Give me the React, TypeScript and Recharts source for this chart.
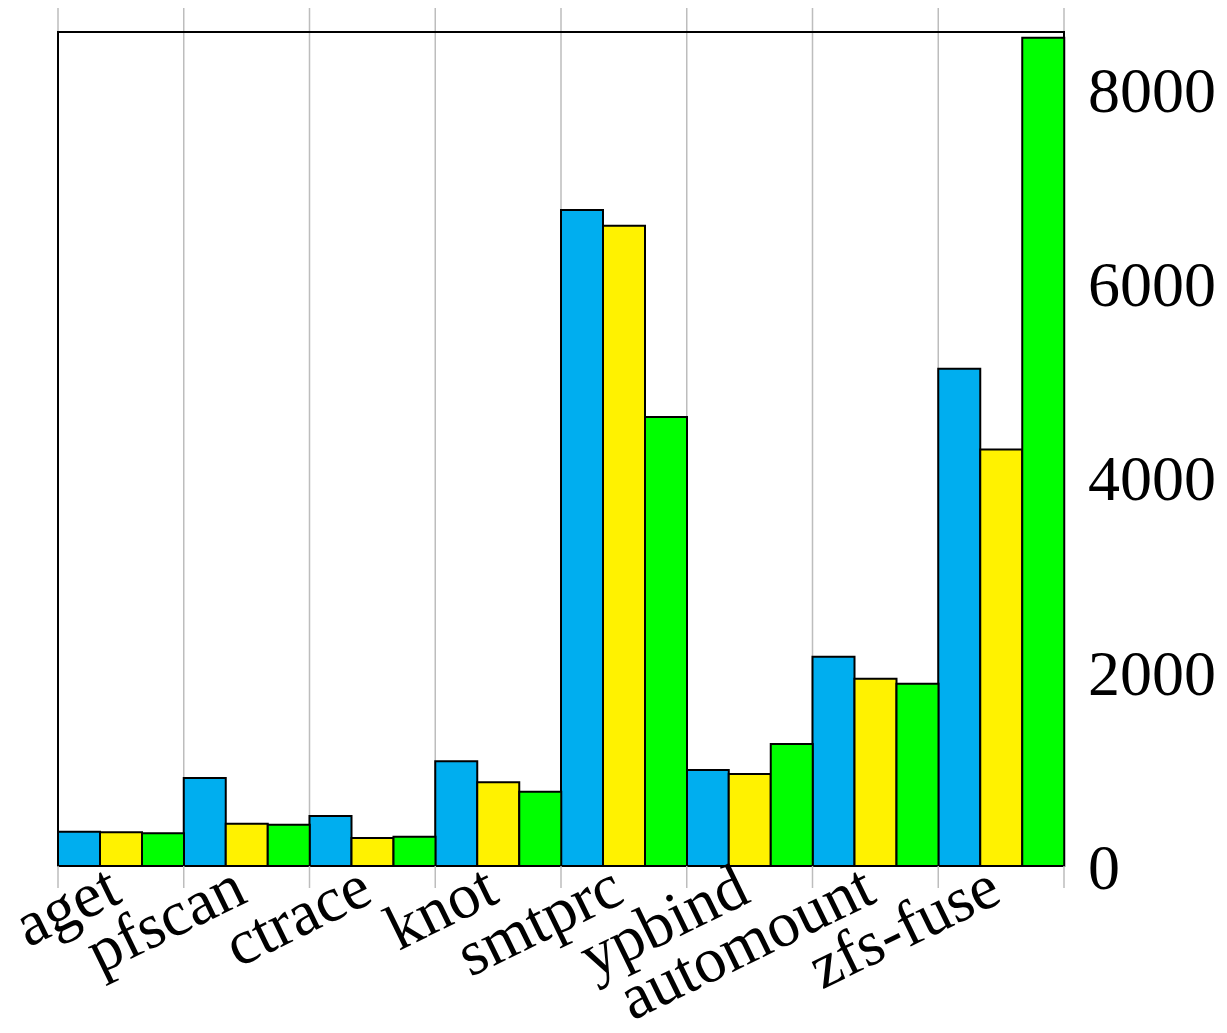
import { BarChart, Bar, XAxis, YAxis, CartesianGrid, ReferenceArea } from 'recharts';

const categories = ['aget', 'pfscan', 'ctrace', 'knot', 'smtprc', 'ypbind', 'automount', 'zfs-fuse'];
const blueValues = [353, 906, 515, 1078, 6756, 989, 2156, 5122];
const yellowValues = [347, 436, 288, 862, 6594, 947, 1929, 4288];
const greenValues = [337, 425, 302, 765, 4624, 1256, 1877, 8530];
const yTicks = [0, 2000, 4000, 6000, 8000];
const Y_MAX = 8836; // top of the grid lines
const FRAME_TOP = 8589; // top edge of the axis box

const data = categories.map((name, i) => ({
  name,
  blue: blueValues[i],
  yellow: yellowValues[i],
  green: greenValues[i],
}));

const W = 1227;
const H = 1033;
const M_LEFT = 58;
const M_TOP = 8;
const RIGHT_AXIS_W = 163;
const X_AXIS_H = 167;
const PLOT_W = W - M_LEFT - RIGHT_AXIS_W;
const BAND = PLOT_W / categories.length;
const GRID = '#bdbdbd';
const FONT = '"Liberation Serif", "DejaVu Serif", serif';

const CategoryTick = ({ x, y, payload, index }: any) => {
  const left = x - BAND / 2;
  const right = x + BAND / 2;
  const tx = x + 3;
  const ty = y + 35;
  return (
    <g>
      <line x1={left} y1={y} x2={left} y2={y + 22} stroke={GRID} strokeWidth={1.5} />
      {index === categories.length - 1 && (
        <line x1={right} y1={y} x2={right} y2={y + 22} stroke={GRID} strokeWidth={1.5} />
      )}
      <text
        x={tx}
        y={ty}
        textAnchor="end"
        transform={`rotate(-26, ${tx}, ${ty})`}
        fontFamily={FONT}
        fontSize={64}
        fill="#000"
      >
        {payload.value}
      </text>
    </g>
  );
};

export default function App() {
  return (
    <div style={{ position: 'absolute', left: 0, top: 0, background: '#fff' }}>
      <BarChart
        width={W}
        height={H}
        data={data}
        margin={{ top: M_TOP, right: 0, bottom: 0, left: M_LEFT }}
        barCategoryGap={0}
        barGap={0}
      >
        <CartesianGrid
          horizontal={false}
          stroke={GRID}
          strokeWidth={1.5}
          verticalCoordinatesGenerator={({ offset }: any) =>
            categories.concat(['end']).map((_, i) => offset.left + (i * offset.width) / categories.length)
          }
        />
        <XAxis
          dataKey="name"
          height={X_AXIS_H}
          interval={0}
          tickLine={false}
          tickSize={0}
          tickMargin={0}
          axisLine={{ stroke: '#000', strokeWidth: 2 }}
          tick={<CategoryTick />}
        />
        <YAxis
          orientation="right"
          width={RIGHT_AXIS_W}
          domain={[0, Y_MAX]}
          ticks={yTicks}
          axisLine={false}
          tickLine={false}
          tickSize={0}
          tickMargin={24}
          tick={{ fill: '#000', fontSize: 64, fontFamily: FONT }}
        />
        <YAxis
          yAxisId="left"
          orientation="left"
          mirror
          domain={[0, Y_MAX]}
          ticks={yTicks}
          axisLine={false}
          tickSize={23}
          tickLine={{ stroke: GRID, strokeWidth: 2 }}
          tick={() => <g />}
        />
        <ReferenceArea y1={0} y2={FRAME_TOP} fill="none" stroke="#000" strokeWidth={2} ifOverflow="visible" />
        <Bar dataKey="blue" fill="#00aeef" stroke="#000" strokeWidth={2} isAnimationActive={false} />
        <Bar dataKey="yellow" fill="#fff200" stroke="#000" strokeWidth={2} isAnimationActive={false} />
        <Bar dataKey="green" fill="#00ff00" stroke="#000" strokeWidth={2} isAnimationActive={false} />
      </BarChart>
    </div>
  );
}
